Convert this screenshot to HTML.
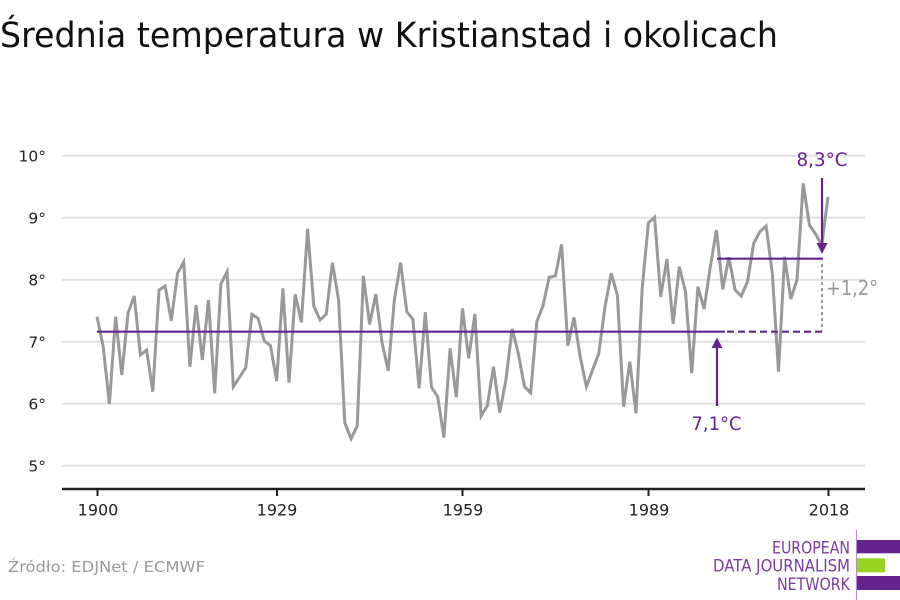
<!DOCTYPE html>
<html>
<head>
<meta charset="utf-8">
<style>
html,body{margin:0;padding:0;background:#fff;}
svg{display:block;}
text{font-family:"DejaVu Sans","Liberation Sans",sans-serif;}
</style>
</head>
<body>
<svg width="900" height="600" viewBox="0 0 900 600" xmlns="http://www.w3.org/2000/svg">
<rect width="900" height="600" fill="#fff"/>
<text x="0" y="47" font-size="35" fill="#111" textLength="778" lengthAdjust="spacingAndGlyphs">Średnia temperatura w Kristianstad i okolicach</text>

<g stroke="#e0e0e0" stroke-width="2">
<line x1="62" y1="155.7" x2="865" y2="155.7"/>
<line x1="62" y1="217.7" x2="865" y2="217.7"/>
<line x1="62" y1="279.7" x2="865" y2="279.7"/>
<line x1="62" y1="341.7" x2="865" y2="341.7"/>
<line x1="62" y1="403.7" x2="865" y2="403.7"/>
<line x1="62" y1="465.7" x2="865" y2="465.7"/>
</g>

<g font-size="15.5" fill="#222" text-anchor="end">
<text x="46" y="161.5">10°</text>
<text x="46" y="223.5">9°</text>
<text x="46" y="285.5">8°</text>
<text x="46" y="347.5">7°</text>
<text x="46" y="409.5">6°</text>
<text x="46" y="471.5">5°</text>
</g>

<line x1="62" y1="489" x2="865" y2="489" stroke="#222" stroke-width="2.5"/>
<g stroke="#222" stroke-width="2">
<line x1="97.5" y1="489" x2="97.5" y2="496"/>
<line x1="277" y1="489" x2="277" y2="496"/>
<line x1="462.5" y1="489" x2="462.5" y2="496"/>
<line x1="648.5" y1="489" x2="648.5" y2="496"/>
<line x1="828.5" y1="489" x2="828.5" y2="496"/>
</g>
<g font-size="16" fill="#222" text-anchor="middle">
<text x="98" y="515.5">1900</text>
<text x="277" y="515.5">1929</text>
<text x="463" y="515.5">1959</text>
<text x="649" y="515.5">1989</text>
<text x="829" y="515.5">2018</text>
</g>

<polyline fill="none" stroke="#999" stroke-width="3" points="97,316.7 103.2,346.7 109.4,404 115.6,316.7 121.8,375 128,313.3 134.2,296 140.4,355 146.6,350 152.8,391.7 159,290 165.1,286 171.3,320.7 177.5,273.3 183.7,262 189.9,366.7 196.1,305 202.3,360 208.5,300 214.7,393.3 220.9,284 227.1,271.7 233.3,386.7 239.5,377.3 245.7,367.7 251.9,314.3 258.1,318.3 264.3,341 270.5,345.7 276.7,381 282.9,288.3 289,382.7 295.2,294.3 301.4,322.3 307.6,228.7 313.8,306 320,320 326.2,314.3 332.4,262.7 338.6,300 344.8,422.7 351,438.7 357.2,426 363.4,276 369.6,324.3 375.8,294 382,342.3 388.2,370.7 394.4,299.3 400.6,262.7 406.8,311.7 412.9,319.3 419.1,388.3 425.3,312.3 431.5,387.3 437.7,396.7 443.9,437.7 450.1,348.3 456.3,397.3 462.5,308.3 468.7,358.3 474.9,314 481.1,416 487.3,405.7 493.5,366.7 499.7,412.7 505.9,380 512.1,329 518.3,353.3 524.5,386.7 530.7,392.7 536.8,321.7 543,305.7 549.2,277.3 555.4,276 561.6,244.3 567.8,345.7 574,317.3 580.2,356.7 586.4,386.7 592.6,370 598.8,353.3 605,306.7 611.2,273.3 617.4,295 623.6,406.7 629.8,361.7 636,413.3 642.2,288.3 648.4,222.7 654.6,217.3 660.7,296.7 666.9,259 673.1,324 679.3,266.7 685.5,291.7 691.7,373.3 697.9,286.7 704.1,309 710.3,266.7 716.5,230 722.7,289.3 728.9,257.3 735.1,290 741.3,296 747.5,281.7 753.7,243.3 759.9,231.7 766.1,226 772.3,273.3 778.5,371.7 784.6,256.7 790.8,299 797,280 803.2,183.3 809.4,225 815.6,234 821.8,245.5 828,196.7"/>

<g stroke="#65238e" stroke-width="2.2" fill="none">
<line x1="97" y1="331.7" x2="725" y2="331.7"/>
<line x1="727" y1="331.7" x2="823" y2="331.7" stroke-dasharray="7,4"/>
<line x1="717" y1="258.7" x2="823" y2="258.7"/>
<line x1="717" y1="406" x2="717" y2="346"/>
<line x1="822" y1="178" x2="822" y2="245"/>
</g>
<polygon points="711.5,348 722.5,348 717,337.5" fill="#65238e"/>
<polygon points="816.5,243 827.5,243 822,254" fill="#65238e"/>
<line x1="822" y1="264" x2="822" y2="331" stroke="#999" stroke-width="2" stroke-dasharray="3,3"/>

<g font-size="19" fill="#65238e" text-anchor="middle">
<text x="822" y="166" textLength="51" lengthAdjust="spacingAndGlyphs">8,3°C</text>
<text x="716.5" y="430" textLength="50" lengthAdjust="spacingAndGlyphs">7,1°C</text>
</g>
<text x="826" y="295" font-size="20" fill="#999" textLength="52" lengthAdjust="spacingAndGlyphs">+1,2°</text>

<text x="8" y="572" font-size="15.5" fill="#999" textLength="197" lengthAdjust="spacingAndGlyphs">Źródło: EDJNet / ECMWF</text>

<line x1="856.5" y1="530" x2="856.5" y2="600" stroke="#b58fcb" stroke-width="1.2"/>
<rect x="857" y="540" width="43" height="13.3" fill="#65238e"/>
<rect x="857" y="558.3" width="28" height="14" fill="#97d321"/>
<rect x="857" y="576" width="43" height="14" fill="#65238e"/>
<g font-size="17" fill="#7a3ba3" text-anchor="end" font-family="Liberation Sans Narrow, Liberation Sans, sans-serif">
<text x="850" y="553.3" textLength="78" lengthAdjust="spacingAndGlyphs">EUROPEAN</text>
<text x="850" y="571.7" textLength="137" lengthAdjust="spacingAndGlyphs">DATA JOURNALISM</text>
<text x="850" y="590" textLength="73" lengthAdjust="spacingAndGlyphs">NETWORK</text>
</g>
</svg>
</body>
</html>
